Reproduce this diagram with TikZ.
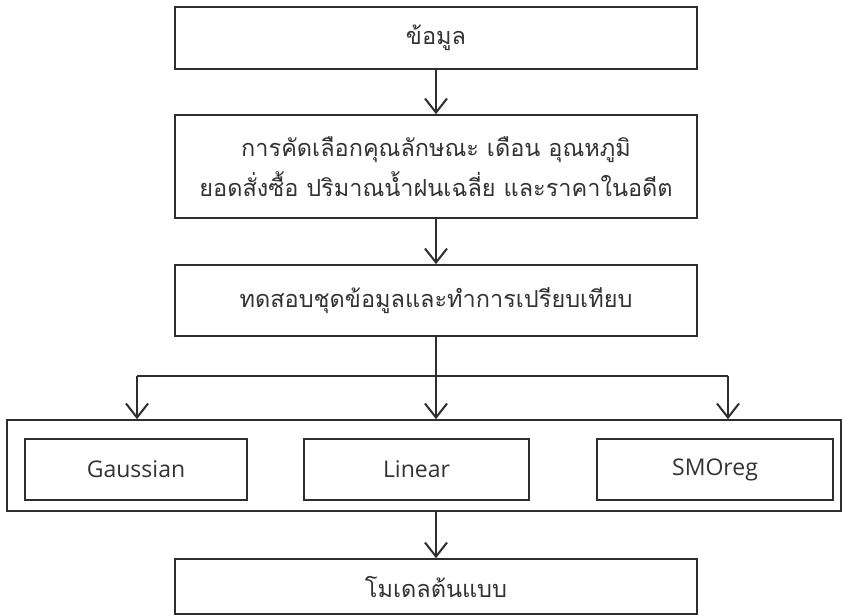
\documentclass[tikz,border=0pt]{standalone}
\usepackage{fontspec}
\usetikzlibrary{arrows.meta}
\newfontfamily\thaifont[Script=Thai]{Loma}
\newfontfamily\latinfont{Open Sans}
\definecolor{ink}{HTML}{2E2E2E}
\definecolor{txt}{HTML}{333333}
\tikzset{
  flowbox/.style={draw=ink, line width=1.7pt, rectangle, inner sep=0pt, text=txt, font=\thaifont\fontsize{23.5}{40}\selectfont, align=center},
  modelbox/.style={draw=ink, line width=1.7pt, rectangle, inner sep=0pt, text=txt, font=\latinfont\fontsize{23}{28}\selectfont},
  conn/.style={draw=ink, line width=2pt},
  arr/.style={conn, -{Straight Barb[length=14pt,width=22pt,line width=2pt]}}
}
\begin{document}
\begin{tikzpicture}[x=1pt,y=-1pt]
\useasboundingbox (0,0) rectangle (842,615);
\node[flowbox, minimum width=522pt, minimum height=62pt] (b1) at (436,38) {ข้อมูล};
\node[flowbox, minimum width=522pt, minimum height=103pt] (b2) at (436,166.5) {การคัดเลือกคุณลักษณะ เดือน อุณหภูมิ\\ยอดสั่งซื้อ ปริมาณน้ำฝนเฉลี่ย และราคาในอดีต};
\node[flowbox, minimum width=522pt, minimum height=71pt] (b3) at (436,300.5) {ทดสอบชุดข้อมูลและทำการเปรียบเทียบ};
\node[draw=ink, line width=1.7pt, rectangle, inner sep=0pt, minimum width=834pt, minimum height=91pt] (outer) at (424,465.5) {};
\node[modelbox, minimum width=222pt, minimum height=61pt] (gauss) at (136,469.5) {Gaussian};
\node[modelbox, minimum width=225pt, minimum height=61pt] (lin) at (416.5,469.5) {Linear};
\node[modelbox, minimum width=236pt, minimum height=61pt] (smo) at (715,469.5) {SMOreg};
\node[flowbox, minimum width=522pt, minimum height=55pt] (b4) at (436,586.5) {โมเดลต้นแบบ};
\coordinate (cl) at (137,376);
\coordinate (cc) at (436,376);
\coordinate (cr) at (728,376);
\draw[arr] (b1.south) -- (b2.north);
\draw[arr] (b2.south) -- (b3.north);
\draw[conn] (b3.south) -- (cc);
\draw[conn] (cl) -- (cr);
\draw[arr] (cl) -- (cl |- outer.north);
\draw[arr] (cc) -- (cc |- outer.north);
\draw[arr] (cr) -- (cr |- outer.north);
\draw[arr] (outer.south -| b4.north) -- (b4.north);
\end{tikzpicture}
\end{document}
